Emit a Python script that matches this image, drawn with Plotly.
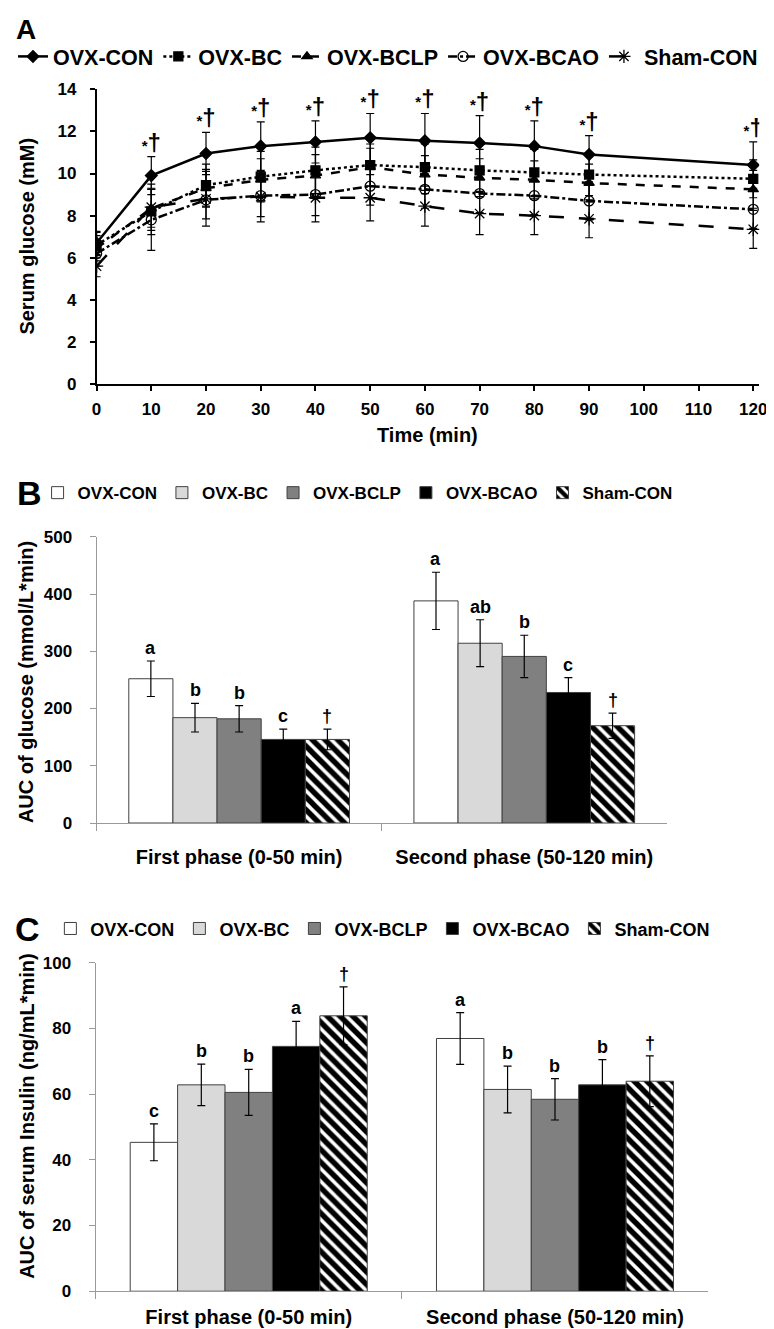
import plotly.graph_objects as go

# ---------------- data ----------------
times = [0, 10, 20, 30, 40, 50, 60, 70, 80, 90, 120]
time_ticks = [0, 10, 20, 30, 40, 50, 60, 70, 80, 90, 100, 110, 120]
groups = ["OVX-CON", "OVX-BC", "OVX-BCLP", "OVX-BCAO", "Sham-CON"]

glu_con = [6.7, 9.9, 10.95, 11.3, 11.5, 11.7, 11.55, 11.45, 11.3, 10.9, 10.4]
glu_bc = [6.6, 8.2, 9.45, 9.85, 10.15, 10.4, 10.3, 10.15, 10.05, 9.95, 9.75]
glu_bclp = [6.45, 8.35, 9.3, 9.7, 9.9, 10.3, 9.95, 9.8, 9.7, 9.55, 9.25]
glu_bcao = [6.2, 7.8, 8.75, 8.95, 9.0, 9.4, 9.25, 9.05, 8.95, 8.7, 8.3]
glu_sham = [5.6, 8.4, 8.8, 8.9, 8.85, 8.85, 8.45, 8.1, 8.0, 7.85, 7.35]

err_con = [0.55, 0.9, 1.0, 1.15, 1.0, 1.15, 1.3, 1.3, 1.2, 0.9, 1.1]
err_bc = [0.6, 1.1, 1.0, 1.2, 1.1, 1.0, 1.1, 1.0, 1.1, 1.0, 0.9]
err_bclp = [0.6, 0.9, 0.9, 1.0, 1.0, 0.9, 0.9, 0.9, 0.9, 0.9, 0.9]
err_bcao = [0.6, 1.45, 0.9, 1.0, 1.0, 0.9, 0.9, 0.9, 0.9, 0.9, 0.9]
err_sham = [0.5, 1.1, 1.3, 1.2, 1.15, 1.1, 0.95, 1.0, 0.9, 0.9, 0.9]

sig_a = ["", "*†", "*†", "*†", "*†", "*†", "*†", "*†", "*†", "*†", "*†"]

phases = ["First phase (0-50 min)", "Second phase (50-120 min)"]

aucg_con = [252, 388]
aucg_bc = [184, 314]
aucg_bclp = [182, 291]
aucg_bcao = [146, 228]
aucg_sham = [146, 170]
aucg_err_con = [31, 50]
aucg_err_bc = [25, 41]
aucg_err_bclp = [23, 37]
aucg_err_bcao = [18, 26]
aucg_err_sham = [18, 22]
aucg_letters = [["a", "a"], ["b", "ab"], ["b", "b"], ["c", "c"], ["†", "†"]]

auci_con = [45.3, 76.9]
auci_bc = [62.8, 61.4]
auci_bclp = [60.5, 58.4]
auci_bcao = [74.5, 62.8]
auci_sham = [83.8, 63.9]
auci_err_con = [5.6, 7.9]
auci_err_bc = [6.3, 7.1]
auci_err_bclp = [7.0, 6.3]
auci_err_bcao = [7.6, 7.7]
auci_err_sham = [8.8, 7.7]
auci_letters = [["c", "a"], ["b", "b"], ["b", "b"], ["a", "b"], ["†", "†"]]

# ---------------- styles ----------------
W, H = 774, 1329
FB = "Liberation Sans, Arial, sans-serif"


def py(p):
    return 1 - p / H


def pxx(p):
    return p / W


fig = go.Figure()

line_series = [
    (groups[0], glu_con, err_con, "diamond", "solid", 9),
    (groups[1], glu_bc, err_bc, "square", "dot", 9),
    (groups[2], glu_bclp, err_bclp, "triangle-up", "dash", 9),
    (groups[3], glu_bcao, err_bcao, "circle-open", "dashdot", 10),
    (groups[4], glu_sham, err_sham, "asterisk-open", "longdash", 11),
]
for name, vals, errs, sym, dash, ms in line_series:
    fig.add_trace(go.Scatter(
        x=times, y=vals, name=name, mode="lines+markers",
        line=dict(color="black", width=2.5, dash=dash),
        marker=dict(symbol=sym, size=ms, color="black",
                    line=dict(color="black", width=1.3)),
        error_y=dict(type="data", array=errs, color="black", thickness=1.2, width=4),
        xaxis="x", yaxis="y", legend="legend",
    ))

# significance marks above OVX-CON
fig.add_trace(go.Scatter(
    x=times, y=[v + e for v, e in zip(glu_con, err_con)],
    text=[("<span style='font-size:15px'>*</span>†" if s else "") for s in sig_a],
    mode="text", textposition="top center",
    textfont=dict(family=FB, size=24, color="black", weight="bold"),
    showlegend=False, hoverinfo="skip", xaxis="x", yaxis="y",
))

bar_colors = ["white", "#d9d9d9", "#808080", "black", "white"]
BW = 0.1548
G0 = -0.387

glu_bars = [aucg_con, aucg_bc, aucg_bclp, aucg_bcao, aucg_sham]
glu_errs = [aucg_err_con, aucg_err_bc, aucg_err_bclp, aucg_err_bcao, aucg_err_sham]
ins_bars = [auci_con, auci_bc, auci_bclp, auci_bcao, auci_sham]
ins_errs = [auci_err_con, auci_err_bc, auci_err_bclp, auci_err_bcao, auci_err_sham]

annotations = []
for (vals_list, errs_list, letters, xa, ya, lg) in [
    (glu_bars, glu_errs, aucg_letters, "x2", "y2", "legend2"),
    (ins_bars, ins_errs, auci_letters, "x3", "y3", "legend3"),
]:
    for i, name in enumerate(groups):
        pattern = (dict(shape="\\", fgcolor="black", fgopacity=1, bgcolor="white",
                        size=9, solidity=0.6)
                   if i == 4 else dict(shape=""))
        fig.add_trace(go.Bar(
            x=phases, y=vals_list[i], name=name, width=BW, offset=G0 + i * BW,
            marker=dict(color=bar_colors[i], line=dict(color="#404040", width=1), pattern=pattern),
            error_y=dict(type="data", array=errs_list[i], color="black", thickness=1.2, width=4),
            xaxis=xa, yaxis=ya, legend=lg,
        ))
        for j in range(len(phases)):
            annotations.append(dict(
                x=j + G0 + i * BW + BW / 2, y=vals_list[i][j] + errs_list[i][j],
                xref=xa, yref=ya, text=letters[i][j], showarrow=False,
                yanchor="bottom", yshift=1,
                font=dict(family=FB, size=18, color="black", weight="bold"),
            ))

# panel letters and titles
for txt, x, y, s in [("A", 13, 13, 28), ("B", 17, 483, 34), ("C", 15, 925, 34)]:
    annotations.append(dict(x=pxx(x), y=py(y), xref="paper", yref="paper", text=txt,
                            showarrow=False, xanchor="center", yanchor="middle",
                            font=dict(family=FB, size=s, color="black", weight="bold")))
for txt, y in [("Serum glucose (mM)", 222), ("AUC of glucose (mmol/L*min)", 675),
               ("AUC of serum Insulin (ng/mL*min)", 1115)]:
    annotations.append(dict(x=pxx(14), y=py(y), xref="paper", yref="paper", text=txt,
                            showarrow=False, textangle=-90, xanchor="center", yanchor="middle",
                            font=dict(family=FB, size=20, color="black", weight="bold")))
annotations.append(dict(x=pxx(422), y=py(424), xref="paper", yref="paper", text="Time (min)",
                        showarrow=False, xanchor="center", yanchor="middle",
                        font=dict(family=FB, size=20, color="black", weight="bold")))

tickfont = dict(family=FB, size=17, color="black", weight="bold")
catfont = dict(family=FB, size=20, color="black", weight="bold")
gray = "#9a9a9a"

fig.update_layout(
    width=W, height=H, autosize=False,
    margin=dict(l=0, r=0, t=0, b=0),
    paper_bgcolor="white", plot_bgcolor="white",
    barmode="group",
    annotations=annotations,
    xaxis=dict(domain=[pxx(85), pxx(759)], range=[0, 121.1], tickvals=time_ticks,
               showline=True, linecolor="black", linewidth=1.5, ticks="outside",
               ticklen=5, tickcolor="black", tickwidth=1.5, showgrid=False, zeroline=False,
               tickfont=tickfont, anchor="y", ticklabelstandoff=4),
    yaxis=dict(domain=[py(372.5), py(73.3)], range=[0, 14], dtick=2,
               showline=True, linecolor="black", linewidth=1.5, ticks="outside",
               ticklen=5, tickcolor="black", tickwidth=1.5, showgrid=False, zeroline=False,
               tickfont=tickfont, anchor="x", ticklabelstandoff=10),
    xaxis2=dict(domain=[pxx(85), pxx(665)], type="category", anchor="y2",
                showline=True, linecolor=gray, linewidth=1, ticks="outside",
                tickson="boundaries", ticklen=7, tickcolor=gray, showgrid=False,
                tickfont=catfont, ticklabelstandoff=16),
    yaxis2=dict(domain=[py(817.7), py(527.3)], range=[0, 500], dtick=100, anchor="x2",
                showline=True, linecolor=gray, linewidth=1, ticks="outside", ticklen=6,
                tickcolor=gray, showgrid=False, zeroline=False, tickfont=tickfont,
                ticklabelstandoff=14),
    xaxis3=dict(domain=[pxx(84), pxx(707)], type="category", anchor="y3",
                showline=True, linecolor=gray, linewidth=1, ticks="outside",
                tickson="boundaries", ticklen=7, tickcolor=gray, showgrid=False,
                tickfont=catfont, ticklabelstandoff=8),
    yaxis3=dict(domain=[py(1292.7), py(959.3)], range=[0, 100], dtick=20, anchor="x3",
                showline=True, linecolor=gray, linewidth=1, ticks="outside", ticklen=6,
                tickcolor=gray, showgrid=False, zeroline=False, tickfont=tickfont,
                ticklabelstandoff=14),
    legend=dict(orientation="h", x=0, xanchor="left", y=py(40), yanchor="middle",
                font=dict(family=FB, size=21.5, color="black", weight="bold"),
                bgcolor="rgba(0,0,0,0)", itemwidth=30, borderwidth=0),
    legend2=dict(orientation="h", x=pxx(25), xanchor="left", y=py(483), yanchor="middle",
                 font=dict(family=FB, size=17, color="black", weight="bold"),
                 bgcolor="rgba(0,0,0,0)", itemwidth=30, borderwidth=0),
    legend3=dict(orientation="h", x=pxx(38), xanchor="left", y=py(925), yanchor="middle",
                 font=dict(family=FB, size=18, color="black", weight="bold"),
                 bgcolor="rgba(0,0,0,0)", itemwidth=30, borderwidth=0),
)

fig.write_html("out.html")
